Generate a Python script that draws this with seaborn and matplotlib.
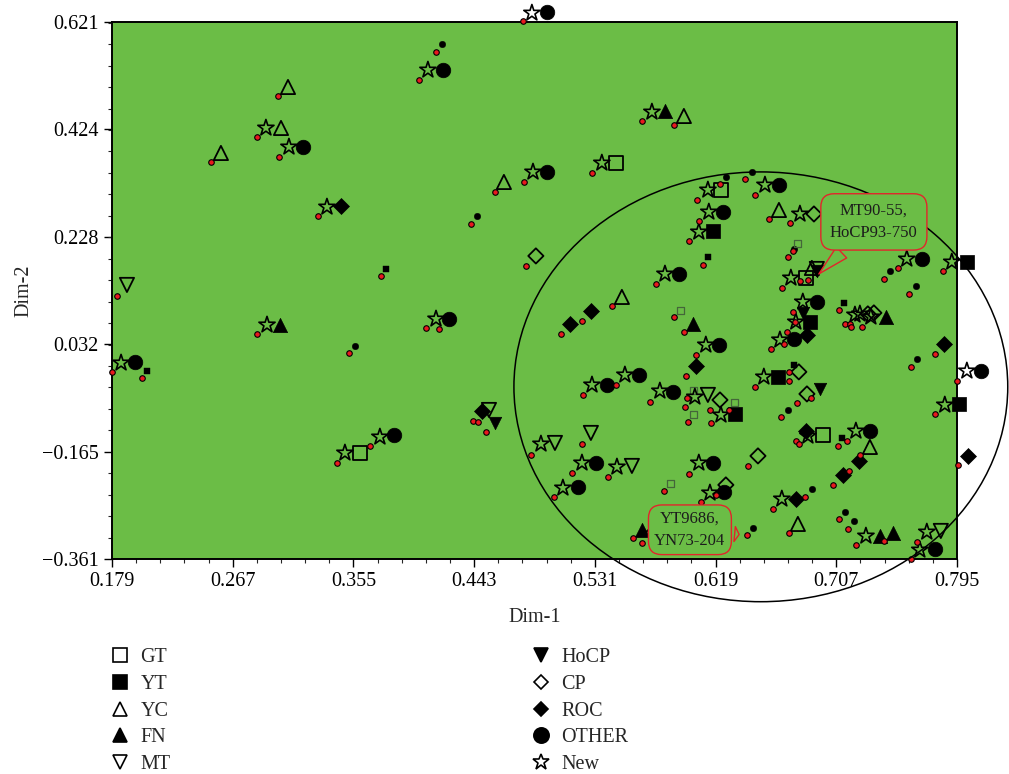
import numpy as np
import pandas as pd
import matplotlib
matplotlib.use("Agg")
import matplotlib.pyplot as plt
from matplotlib.patches import Ellipse
from matplotlib.lines import Line2D
from matplotlib.ticker import AutoMinorLocator
import seaborn as sns

sns.set_style("ticks")
plt.rcParams["font.family"] = ["Liberation Serif", "DejaVu Serif"]
plt.rcParams["axes.unicode_minus"] = True

# ---------------- data ----------------
xticks = [0.179, 0.267, 0.355, 0.443, 0.531, 0.619, 0.707, 0.795]
yticks = [-0.361, -0.165, 0.032, 0.228, 0.424, 0.621]
ytick_labels = ["\u22120.361", "\u22120.165", "0.032", "0.228", "0.424", "0.621"]

red_x = [0.3000, 0.2847, 0.3007, 0.2512, 0.3292, 0.4786, 0.4152, 0.4028, 0.5653, 0.5886,
         0.5289, 0.4793, 0.4582, 0.4407, 0.6222, 0.6054, 0.6404, 0.6477, 0.6068, 0.6579,
         0.6732, 0.5996, 0.6754, 0.6717, 0.6098, 0.5755, 0.6805, 0.6863, 0.6673, 0.7519,
         0.7417, 0.7847, 0.7599, 0.6754, 0.6768, 0.6710, 0.6593, 0.6688, 0.7089, 0.7133,
         0.7169, 0.7176, 0.7257, 0.7788, 0.7614, 0.7949, 0.5886, 0.5959, 0.6047, 0.5974,
         0.6477, 0.6724, 0.6724, 0.6885, 0.6783, 0.6666, 0.5981, 0.5966, 0.6149, 0.6287,
         0.6156, 0.5988, 0.6775, 0.6797, 0.7147, 0.7081, 0.7242, 0.7162, 0.7045, 0.6426,
         0.6192, 0.6083, 0.6841, 0.6608, 0.6724, 0.6418, 0.7089, 0.7154, 0.7213, 0.7417,
         0.7657, 0.7614, 0.7788, 0.7956, 0.5464, 0.5223, 0.5711, 0.4421, 0.4458, 0.4516,
         0.4844, 0.5216, 0.5143, 0.5405, 0.5012, 0.5996, 0.5813, 0.5587, 0.5653, 0.3751,
         0.4808, 0.4079, 0.4173, 0.3517, 0.5434, 0.5216, 0.5063, 0.1826, 0.2847, 0.1790,
         0.2009, 0.3430, 0.3671]
red_y = [0.4853, 0.4104, 0.3738, 0.3647, 0.2660, 0.6223, 0.5656, 0.5145, 0.4396, 0.4323,
         0.3446, 0.3281, 0.3099, 0.2514, 0.3245, 0.2952, 0.3336, 0.3044, 0.2569, 0.2605,
         0.2532, 0.2203, 0.2020, 0.1911, 0.1764, 0.1418, 0.1472, 0.1491, 0.1344, 0.1710,
         0.1509, 0.1655, 0.1235, 0.0906, 0.0723, 0.0541, 0.0230, 0.0321, 0.0943, 0.0687,
         0.0687, 0.0632, 0.0632, 0.0139, -0.0099, -0.0355, 0.0815, 0.0541, 0.0121, -0.0264,
         -0.0465, -0.0190, -0.0355, -0.0666, -0.0758, -0.1014, -0.0666, -0.0831, -0.0886, -0.0886,
         -0.1123, -0.1105, -0.1452, -0.1507, -0.1452, -0.1544, -0.1708, -0.2000, -0.2256, -0.1909,
         -0.2439, -0.2567, -0.2476, -0.2695, -0.3134, -0.3171, -0.2878, -0.3061, -0.3353, -0.3280,
         -0.3298, -0.3609, -0.0959, -0.1891, -0.0428, -0.0611, -0.0739, -0.1087, -0.1105, -0.1288,
         -0.1708, -0.1507, -0.2037, -0.2110, -0.2476, -0.2055, -0.2366, -0.3225, -0.3317, 0.1563,
         0.1746, 0.0614, 0.0596, 0.0157, 0.1016, 0.0742, 0.0504, 0.1198, 0.0504, -0.0190,
         -0.0300, -0.1854, -0.1544]

new_x = [0.2912, 0.3080, 0.3357, 0.4851, 0.4093, 0.5726, 0.5361, 0.4859, 0.6134, 0.6550,
         0.6141, 0.6805, 0.6068, 0.5821, 0.6739, 0.7584, 0.7912, 0.6826, 0.6775, 0.6659,
         0.7206, 0.7242, 0.7322, 0.8022, 0.7861, 0.6119, 0.6542, 0.5784, 0.6039, 0.6229,
         0.6863, 0.7213, 0.6673, 0.7286, 0.7730, 0.7679, 0.5289, 0.5529, 0.4917, 0.5216,
         0.5471, 0.5077, 0.6068, 0.6149, 0.4152, 0.2920, 0.1856, 0.3488, 0.3743]
new_y = [0.4268, 0.3921, 0.2824, 0.6369, 0.5328, 0.4560, 0.3628, 0.3464, 0.3135, 0.3226,
         0.2733, 0.2696, 0.2368, 0.1600, 0.1527, 0.1874, 0.1819, 0.1089, 0.0723, 0.0395,
         0.0851, 0.0870, 0.0815, -0.0172, -0.0794, 0.0303, -0.0282, -0.0538, -0.0648, -0.0977,
         -0.1361, -0.1270, -0.2512, -0.3189, -0.3116, -0.3445, -0.0428, -0.0245, -0.1507, -0.1854,
         -0.1927, -0.2311, -0.1854, -0.2402, 0.0778, 0.0669, -0.0026, -0.1671, -0.1379]

gt_x = [0.5464, 0.6229, 0.6848, 0.6972, 0.3598]
gt_y = [0.3628, 0.3135, 0.1527, -0.1343, -0.1671]
yt_x = [0.6171, 0.6877, 0.6644, 0.8022, 0.7963, 0.6331]
yt_y = [0.2386, 0.0723, -0.0282, 0.1819, -0.0776, -0.0959]
yc_x = [0.3073, 0.3022, 0.2584, 0.5959, 0.4647, 0.6652, 0.6892, 0.5507, 0.7315, 0.6790]
yc_y = [0.5017, 0.4268, 0.3811, 0.4487, 0.3281, 0.2769, 0.1710, 0.1180, -0.1562, -0.2969]
fn_x = [0.5821, 0.3015, 0.7431, 0.6025, 0.7388, 0.7483, 0.5653]
fn_y = [0.4579, 0.0669, 0.0815, 0.0687, -0.3189, -0.3134, -0.3079]
mt_x = [0.1899, 0.6928, 0.4538, 0.5019, 0.5281, 0.5580, 0.6134, 0.7832]
mt_y = [0.1399, 0.1691, -0.0886, -0.1489, -0.1306, -0.1909, -0.0611, -0.3097]
hocp_x = [0.6928, 0.6826, 0.6950, 0.4582]
hocp_y = [0.1655, 0.0888, -0.0502, -0.1123]
cp_x = [0.6907, 0.4880, 0.7300, 0.7344, 0.6797, 0.6856, 0.6222, 0.6499, 0.6265, 0.5733]
cp_y = [0.2696, 0.1929, 0.0870, 0.0888, -0.0190, -0.0593, -0.0703, -0.1726, -0.2256, -0.3134]
roc_x = [0.3459, 0.6856, 0.7854, 0.6047, 0.6848, 0.7235, 0.7118, 0.6775, 0.8029, 0.5281, 0.5128, 0.4487]
roc_y = [0.2843, 0.0486, 0.0321, -0.0081, -0.1270, -0.1818, -0.2073, -0.2512, -0.1726, 0.0924, 0.0687, -0.0904]
other_x = [0.3182, 0.4961, 0.4203, 0.4961, 0.6652, 0.6244, 0.5923, 0.7694, 0.6928, 0.6761,
           0.8124, 0.6214, 0.5879, 0.5398, 0.5631, 0.7315, 0.7788, 0.5318, 0.5187, 0.6171,
           0.6251, 0.1958, 0.3846, 0.4246]
other_y = [0.3921, 0.6387, 0.5328, 0.3464, 0.3226, 0.2733, 0.1600, 0.1874, 0.1089, 0.0413,
           -0.0172, 0.0303, -0.0557, -0.0428, -0.0245, -0.1270, -0.3426, -0.1854, -0.2293, -0.1854,
           -0.2384, -0.0007, -0.1343, 0.0778]

blackdot_x = [0.4195, 0.4450, 0.6265, 0.6455, 0.6761, 0.7461, 0.7650, 0.7657, 0.6717, 0.6892,
              0.6462, 0.7133, 0.7198, 0.3561]
blackdot_y = [0.5803, 0.2660, 0.3373, 0.3464, 0.2057, 0.1655, 0.1381, 0.0048, -0.0886, -0.2329,
              -0.3043, -0.2750, -0.2914, 0.0285]
tinysq_x = [0.3787, 0.6134, 0.7125, 0.6761, 0.2045, 0.7111]
tinysq_y = [0.1691, 0.1911, 0.1071, -0.0062, -0.0172, -0.1397]
tinyopen_x = [0.6790, 0.5937, 0.6032, 0.6032, 0.6331, 0.5864]
tinyopen_y = [0.2148, 0.0924, -0.0538, -0.0977, -0.0758, -0.2238]

ellipse_center = (0.652, -0.0463)
ellipse_size = (0.360, 0.7855)

callout1_text = "MT90-55,\nHoCP93-750"
callout1_xy = (0.6928, 0.1565)
callout1_box = (0.7344, 0.2551)
callout2_text = "YT9686,\nYN73-204"
callout2_xy = (0.6382, -0.3167)
callout2_box = (0.6003, -0.3076)

# ---------------- figure ----------------
GREEN = "#6bbd46"
W, H = 1009, 774
fig = plt.figure(figsize=(W / 100, H / 100), dpi=100)
ax = fig.add_axes([112 / W, 1 - 559 / H, (957 - 112) / W, (559 - 21.7) / H])
ax.set_facecolor(GREEN)

def pts(xs, ys, marker, s, filled=True, color="black", ec="black", lw=1.1, z=3):
    df = pd.DataFrame({"x": xs, "y": ys})
    kw = dict(marker=marker, s=s, linewidth=lw, zorder=z, clip_on=False, legend=False)
    if filled:
        sns.scatterplot(data=df, x="x", y="y", color=color, edgecolor=ec, ax=ax, **kw)
    else:
        sns.scatterplot(data=df, x="x", y="y", color=ec, facecolor="none", edgecolor=ec, ax=ax, **kw)

# category markers
pts(gt_x, gt_y, "s", 95, filled=False, lw=1.3)
pts(yt_x, yt_y, "s", 95, filled=True, lw=0.5)
pts(yc_x, yc_y, "^", 105, filled=False, lw=1.3)
pts(fn_x, fn_y, "^", 105, filled=True, lw=0.5)
pts(mt_x, mt_y, "v", 105, filled=False, lw=1.3)
pts(hocp_x, hocp_y, "v", 80, filled=True, lw=0.5)
pts(cp_x, cp_y, "D", 60, filled=False, lw=1.3)
pts(roc_x, roc_y, "D", 66, filled=True, lw=0.5)
pts(other_x, other_y, "o", 110, filled=True, lw=0.5)
# small markers
pts(blackdot_x, blackdot_y, "o", 22, filled=True, lw=0.3)
pts(tinysq_x, tinysq_y, "s", 20, filled=True, lw=0.3)
pts(tinyopen_x, tinyopen_y, "s", 26, filled=False, ec="#44663a", lw=0.9)
# new (stars)
pts(new_x, new_y, "*", 150, filled=False, lw=1.2, z=4)
# red dots
pts(red_x, red_y, "o", 16, filled=True, color="#e8191e", ec="black", lw=0.8, z=5)

# ellipse
ell = Ellipse(ellipse_center, ellipse_size[0], ellipse_size[1], fill=False,
              edgecolor="black", linewidth=1.1, clip_on=False, zorder=6)
ax.add_patch(ell)

# callouts
for txt, xy, box, pad in [(callout1_text, callout1_xy, callout1_box, 0.55),
                          (callout2_text, callout2_xy, callout2_box, 0.35)]:
    ax.annotate(txt, xy=xy, xytext=box, textcoords="data", ha="center", va="center",
                fontsize=12, color="#1c1c1c", linespacing=1.5, zorder=7,
                bbox=dict(boxstyle=f"round,pad={pad},rounding_size=0.8", fc=GREEN, ec="#e3242b", lw=1.0),
                arrowprops=dict(arrowstyle="wedge,tail_width=0.9,shrink_factor=0.5",
                                fc=GREEN, ec="#e3242b", lw=1.0))

# axes
ax.set_xlim(0.179, 0.795)
ax.set_ylim(-0.361, 0.621)
ax.set_xticks(xticks)
ax.set_xticklabels([f"{v:.3f}" for v in xticks])
ax.set_yticks(yticks)
ax.set_yticklabels(ytick_labels)
ax.xaxis.set_minor_locator(AutoMinorLocator(5))
ax.yaxis.set_minor_locator(AutoMinorLocator(5))
ax.tick_params(which="major", length=6, width=1.0, labelsize=14.5, direction="out", colors="black")
ax.tick_params(which="minor", length=3, width=0.8, direction="out")
for sp in ax.spines.values():
    sp.set_visible(True)
    sp.set_color("black")
    sp.set_linewidth(1.4)
ax.set_xlabel("Dim-1", fontsize=14.5, labelpad=12)
ax.set_ylabel("Dim-2", fontsize=14.5, labelpad=6)

# legend
def h(marker, filled, ms):
    return Line2D([], [], linestyle="none", marker=marker, markersize=ms,
                  markerfacecolor="black" if filled else "none",
                  markeredgecolor="black", markeredgewidth=1.2)

left_labels = ["GT", "YT", "YC", "FN", "MT"]
left_handles = [h("s", False, 10), h("s", True, 10), h("^", False, 10), h("^", True, 10), h("v", False, 10)]
right_labels = ["HoCP", "CP", "ROC", "OTHER", "New"]
right_handles = [h("v", True, 10), h("D", False, 7.5), h("D", True, 7.5), h("o", True, 11), h("*", False, 12)]

leg1 = fig.legend(left_handles, left_labels, loc="upper left",
                  bbox_to_anchor=(100 / W, 1 - 640 / H), frameon=False, fontsize=14.5,
                  labelspacing=0.38, handletextpad=0.4, handlelength=1.2, borderaxespad=0)
leg2 = fig.legend(right_handles, right_labels, loc="upper left",
                  bbox_to_anchor=(521 / W, 1 - 640 / H), frameon=False, fontsize=14.5,
                  labelspacing=0.38, handletextpad=0.4, handlelength=1.2, borderaxespad=0)

fig.savefig("out.png", dpi=100, facecolor="white")
